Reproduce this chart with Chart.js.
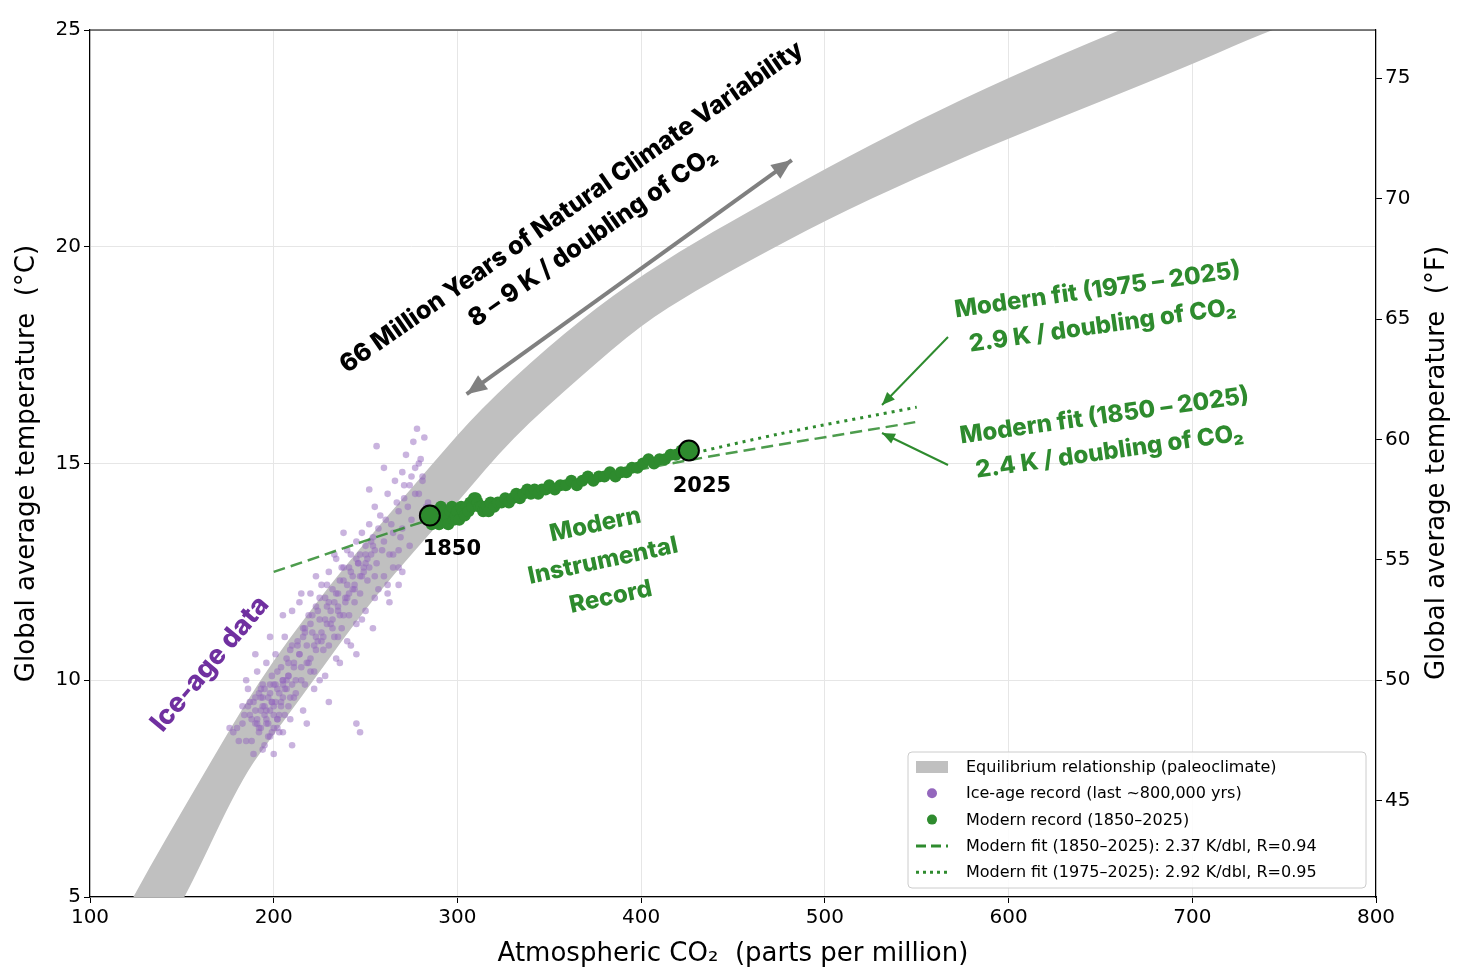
<!DOCTYPE html>
<html><head><meta charset="utf-8">
<script src="https://cdn.jsdelivr.net/npm/chart.js@4"></script>
<style>html,body{margin:0;padding:0;background:#fff}#w{width:1466px;height:980px}</style>
</head><body><div id="w"><canvas id="c"></canvas></div>
<script>
const bandUpperCO2=[105,123,160,192,225,250,288,312,349,385,421,458,500,550,600,660,720,780];
const bandUpperT=[3.5,5.0,7.7,10.0,11.9,13.2,15.07,16.23,17.69,18.9,19.9,20.8,21.8,22.9,23.9,25.0,26.0,26.9];
const bandLowerCO2=[140,152,182,200,220,254,300,330,367,400,430,460,500,550,600,700,742,800];
const bandLowerT=[4.2,5.0,7.7,8.75,9.9,11.9,14.1,15.6,17.0,18.2,19.0,19.7,20.6,21.6,22.5,24.2,25.0,25.9];
const iceCO2=[178,180,183,183,185,186,188,189,190,191,192,193,194,195,195,196,197,198,198,199,200,200,201,202,203,204,205,205,206,207,208,209,210,210,211,212,213,214,215,216,217,218,219,220,220,221,222,223,224,225,226,227,228,229,230,230,231,232,233,234,235,236,237,238,239,240,240,241,242,243,244,245,246,247,248,249,250,251,252,253,254,255,256,258,260,262,264,266,268,270,271,272,274,275,276,277,278,279,280,281,282,283,256,260,265,268,247,245,230,218,210,223,215,205,198,190,185,200,209,233,238,252,257,263,270,
 187,189,191,192,193,194,195,196,197,198,199,200,201,202,203,204,205,206,207,208,190,192,194,196,198,200,202,204,206,208,188,191,193,195,197,199,201,203,205,207,209,211,213,212,214,216,218,220,222,224,226,228,230,232,234,236,238,240,242,244,246,248,250,252,254,215,219,223,227,231,235,239,243,247,251,255,217,221,225,229,233,237,241,245,249,253,257,259,261,263,265,267,269,271,273,275,277,279,281,284,186,194,202,210,225,235,245,255,262,268,
 176,181,184,187,190,193,196,199,202,205,208,211,214,217,220,223,226,229,232,235,238,241,244,247,250,
 240,245,250,255,260,265,270,236,242,248,254,262,268,274,216,222,228,234];
const iceT=[8.8,8.9,9.4,9.0,8.6,9.8,9.1,8.3,9.6,10.2,8.8,9.3,9.9,8.5,9.2,10.4,9.0,9.7,8.7,10.1,9.4,8.9,10.6,9.8,9.2,10.3,9.6,8.8,11.0,10.0,9.4,10.7,9.9,11.6,10.4,9.7,10.9,11.8,10.3,11.2,9.9,10.8,11.5,10.5,12.0,11.1,10.2,11.7,10.9,11.4,12.2,10.7,11.9,11.3,12.5,10.8,11.6,12.1,11.0,12.8,11.7,12.3,11.2,12.6,11.9,13.0,12.2,11.5,12.9,12.4,11.8,13.2,12.7,12.0,13.4,12.6,13.1,12.3,13.6,12.9,13.3,14.0,12.7,13.8,13.2,14.3,13.6,14.6,13.9,14.8,14.2,15.2,14.5,13.7,15.5,14.9,15.8,14.3,15.1,14.7,15.6,14.0,15.4,14.9,12.6,12.2,8.8,9.0,9.5,9.0,8.5,12.4,12.0,11.5,11.0,10.6,10.0,8.3,9.1,12.9,13.4,14.4,12.1,11.8,12.5,
 9.2,9.5,9.0,9.7,8.9,9.4,9.8,9.1,9.6,9.3,8.8,9.9,9.5,9.1,9.7,9.4,10.0,9.2,9.8,10.1,9.3,8.9,9.6,9.0,9.9,9.2,10.2,9.5,9.8,10.4,8.6,9.1,9.8,9.4,8.7,9.5,9.9,8.8,10.0,10.5,9.6,10.3,10.8,10.0,10.6,11.0,10.4,11.3,10.8,11.6,11.1,11.4,11.8,11.2,12.0,11.5,12.3,11.9,12.5,12.2,12.7,12.4,12.9,12.6,13.1,10.0,10.4,10.7,11.0,11.3,11.6,11.8,12.1,12.4,12.8,13.0,11.1,11.5,11.9,12.2,11.8,12.6,12.0,12.8,12.5,13.2,13.5,13.0,13.7,12.9,13.4,14.1,13.3,14.5,14.0,14.7,14.3,15.0,14.6,14.1,9.4,8.4,8.9,10.8,10.0,11.0,10.6,12.4,12.2,13.0,
 8.9,8.6,9.2,9.5,9.0,9.6,9.3,9.5,9.1,9.9,10.1,9.6,10.6,11.2,10.2,11.0,10.9,11.7,11.4,12.0,11.5,12.6,12.1,12.9,12.7,
 10.9,11.3,11.6,11.9,12.4,12.9,13.5,10.4,10.8,11.4,11.2,12.0,12.6,13.1,9.3,9.8,10.1,10.5];
const modCO2=[285,286,287,288,289,290,291,292,293,294,295,296,297,298,299,300,301,302,303,304,305,306,307,308,309,310,311,312,313,314,315,316,317,318,320,322,324,326,328,330,332,334,336,338,340,342,344,346,348,350,353,356,359,362,365,368,371,374,377,380,383,386,389,392,395,398,401,404,407,410,413,416,419,422,425];
const modT=[13.8,13.6,13.9,13.7,13.8,13.6,14.0,13.7,13.9,13.8,13.6,13.9,14.0,13.7,13.8,13.9,13.7,14.0,13.9,13.8,14.0,13.9,14.1,14.0,14.2,14.2,14.1,14.0,14.0,13.9,14.0,14.0,13.9,14.1,14.0,14.1,14.1,14.2,14.1,14.2,14.3,14.2,14.3,14.4,14.3,14.4,14.3,14.4,14.4,14.5,14.4,14.5,14.5,14.6,14.5,14.6,14.7,14.6,14.7,14.7,14.8,14.7,14.8,14.8,14.9,14.9,15.0,15.1,15.0,15.1,15.1,15.2,15.2,15.3,15.3];
const fit1CO2=[200,300,400,550];
const fit1T=[12.5,13.89,14.87,15.96];
const fit2CO2=[400,475,550];
const fit2T=[14.96,15.68,16.3];
const keyCO2=[285,426];
const keyT=[13.8,15.3];
const keyLabels=['1850','2025'];
const xTicks=[100,200,300,400,500,600,700,800];
const fTicks=[45,50,55,60,65,70,75];

const pts=(a,b)=>a.map((v,i)=>({x:v,y:b[i]}));
const green='#2e8b2e';
const FB='Inter, "Open Sans", sans-serif';

function smoothPath(c,P,start){
 if(start)c.moveTo(P[0][0],P[0][1]);else c.lineTo(P[0][0],P[0][1]);
 for(let i=1;i<P.length-1;i++){const mx=(P[i][0]+P[i+1][0])/2,my=(P[i][1]+P[i+1][1])/2;c.quadraticCurveTo(P[i][0],P[i][1],mx,my);}
 c.lineTo(P[P.length-1][0],P[P.length-1][1]);
}
const band={id:'band',beforeDatasetsDraw(ch){
 const c=ch.ctx,a=ch.chartArea,xs=ch.scales.x,ys=ch.scales.y;
 c.save();c.beginPath();c.rect(a.left,a.top,a.right-a.left,a.bottom-a.top);c.clip();
 c.fillStyle='#c0c0c0';c.beginPath();
 const U=bandUpperCO2.map((v,i)=>[xs.getPixelForValue(v),ys.getPixelForValue(bandUpperT[i])]);
 const L=bandLowerCO2.map((v,i)=>[xs.getPixelForValue(v),ys.getPixelForValue(bandLowerT[i])]).reverse();
 smoothPath(c,U,true);smoothPath(c,L,false);
 c.closePath();c.fill();c.restore();
}};

const annot={id:'annot',afterDraw(ch){
 const c=ch.ctx,a=ch.chartArea,xs=ch.scales.x,ys=ch.scales.y;
 c.save();
 c.strokeStyle='#000';c.lineWidth=1.2;
 c.beginPath();c.moveTo(a.left,a.top);c.lineTo(a.right,a.top);c.stroke();
 function arrow(x1,y1,x2,y2,col,w,h,both){
  c.strokeStyle=col;c.fillStyle=col;c.lineWidth=w;
  c.beginPath();c.moveTo(x1,y1);c.lineTo(x2,y2);c.stroke();
  const head=(xa,ya,xb,yb)=>{const an=Math.atan2(yb-ya,xb-xa);
   c.beginPath();c.moveTo(xb,yb);c.lineTo(xb-h*Math.cos(an-0.4),yb-h*Math.sin(an-0.4));
   c.lineTo(xb-h*Math.cos(an+0.4),yb-h*Math.sin(an+0.4));c.closePath();c.fill();};
  head(x1,y1,x2,y2); if(both) head(x2,y2,x1,y1);
 }
 arrow(xs.getPixelForValue(305),ys.getPixelForValue(16.6),xs.getPixelForValue(482),ys.getPixelForValue(22.0),'#808080',4,22,true);
 arrow(948,337,882,405,green,2,14,false);
 arrow(948,465,882,433,green,2,14,false);
 function rtext(lines,x,y,ang,font,col,lh){
  c.save();c.translate(x,y);c.rotate(ang*Math.PI/180);c.font=font;c.fillStyle=col;
  c.textAlign='center';c.textBaseline='middle';
  lines.forEach((l,i)=>c.fillText(l,0,(i-(lines.length-1)/2)*lh));c.restore();
 }
 rtext(['66 Million Years of Natural Climate Variability','8 – 9 K / doubling of CO₂'],582,222,-35,'800 25px '+FB,'#000',36);
 rtext(['Modern fit (1975 – 2025)','2.9 K / doubling of CO₂'],1100,308,-8,'800 24px '+FB,green,36);
 rtext(['Modern fit (1850 – 2025)','2.4 K / doubling of CO₂'],1107,434,-8,'800 24px '+FB,green,36);
 rtext(['Modern','Instrumental','Record'],603,561,-12,'800 24px '+FB,green,37);
 rtext(['Ice-age data'],210,664,-50,'800 27px '+FB,'#7030a0',30);
 c.font='bold 21px "DejaVu Sans"';c.fillStyle='#000';c.textAlign='center';c.textBaseline='middle';
 c.fillText(keyLabels[0],xs.getPixelForValue(keyCO2[0])+22,550);
 c.fillText(keyLabels[1],xs.getPixelForValue(keyCO2[1])+13,487);
 c.save();c.translate(1437,463);c.rotate(-Math.PI/2);c.font='26px "DejaVu Sans"';c.fillStyle='#000';
 c.fillText('Global average temperature  (°F)',0,0);c.restore();
 const lx=908,ly=752,lw=458,lh=136;
 c.fillStyle='rgba(255,255,255,0.85)';c.strokeStyle='#ccc';c.lineWidth=1;
 c.beginPath();c.roundRect(lx,ly,lw,lh,4);c.fill();c.stroke();
 const rows=['Equilibrium relationship (paleoclimate)','Ice-age record (last ~800,000 yrs)','Modern record (1850–2025)','Modern fit (1850–2025): 2.37 K/dbl, R=0.94','Modern fit (1975–2025): 2.92 K/dbl, R=0.95'];
 c.font='16px "DejaVu Sans"';c.textAlign='left';c.textBaseline='middle';
 rows.forEach((t,i)=>{const y=767+i*26.3;
  if(i==0){c.fillStyle='#c0c0c0';c.fillRect(916,y-6,32,12);}
  if(i==1){c.fillStyle='#9467bd';c.beginPath();c.arc(932,y,5,0,7);c.fill();}
  if(i==2){c.fillStyle=green;c.beginPath();c.arc(932,y,5,0,7);c.fill();}
  if(i>=3){c.strokeStyle=green;c.lineWidth=3;c.setLineDash(i==3?[10,5]:[3,4]);c.beginPath();c.moveTo(916,y);c.lineTo(948,y);c.stroke();c.setLineDash([]);}
  c.fillStyle='#000';c.fillText(t,966,y+1);
 });
 c.restore();
}};

new Chart(document.getElementById('c'),{
 type:'scatter',
 data:{datasets:[
  {data:pts(iceCO2,iceT),order:6,pointRadius:3.3,pointBorderWidth:0,backgroundColor:'rgba(148,103,189,0.5)'},
  {data:pts(fit1CO2,fit1T),order:5,showLine:true,pointRadius:0,borderColor:'rgba(46,139,46,0.85)',borderWidth:2.5,borderDash:[12,6],tension:0.3},
  {data:pts(fit2CO2,fit2T),order:4,showLine:true,pointRadius:0,borderColor:green,borderWidth:3,borderDash:[3,5],tension:0.3},
  {data:pts(modCO2,modT),order:3,pointRadius:6,pointBorderWidth:0,backgroundColor:green},
  {data:pts(keyCO2,keyT),order:1,pointRadius:10,pointBorderWidth:2,borderColor:'#000',backgroundColor:green}
 ]},
 options:{responsive:true,maintainAspectRatio:false,animation:false,devicePixelRatio:1,
  layout:{padding:{top:30,right:0,left:0,bottom:0}},
  plugins:{legend:{display:false},tooltip:{enabled:false}},
  scales:{
   x:{type:'linear',min:100,max:800,afterFit:s=>{s.height=83;},
    afterBuildTicks:s=>{s.ticks=xTicks.map(v=>({value:v}));},
    grid:{color:'#e6e6e6',drawTicks:true,tickColor:'#000',tickLength:6},border:{color:'#000',width:1.2},
    ticks:{color:'#000',font:{size:20,family:'DejaVu Sans'},maxRotation:0},
    title:{display:true,text:'Atmospheric CO₂  (parts per million)',color:'#000',font:{size:26,family:'DejaVu Sans'},padding:{top:0,bottom:10}}},
   y:{min:5,max:25,afterFit:s=>{s.width=90;},ticks:{stepSize:5,color:'#000',font:{size:20,family:'DejaVu Sans'}},
    grid:{color:'#e6e6e6',tickColor:'#000',tickLength:6},border:{color:'#000',width:1.2},
    title:{display:true,text:'Global average temperature  (°C)',color:'#000',font:{size:26,family:'DejaVu Sans'},padding:{top:12,bottom:0}}},
   y2:{position:'right',min:41,max:77,afterFit:s=>{s.width=90;},ticks:{color:'#000',font:{size:20,family:'DejaVu Sans'}},
    afterBuildTicks:s=>{s.ticks=fTicks.map(v=>({value:v}));},
    grid:{drawOnChartArea:false,tickColor:'#000',tickLength:6},border:{color:'#000',width:1.2}}
  }}
 ,plugins:[band,annot]});
</script></body></html>
